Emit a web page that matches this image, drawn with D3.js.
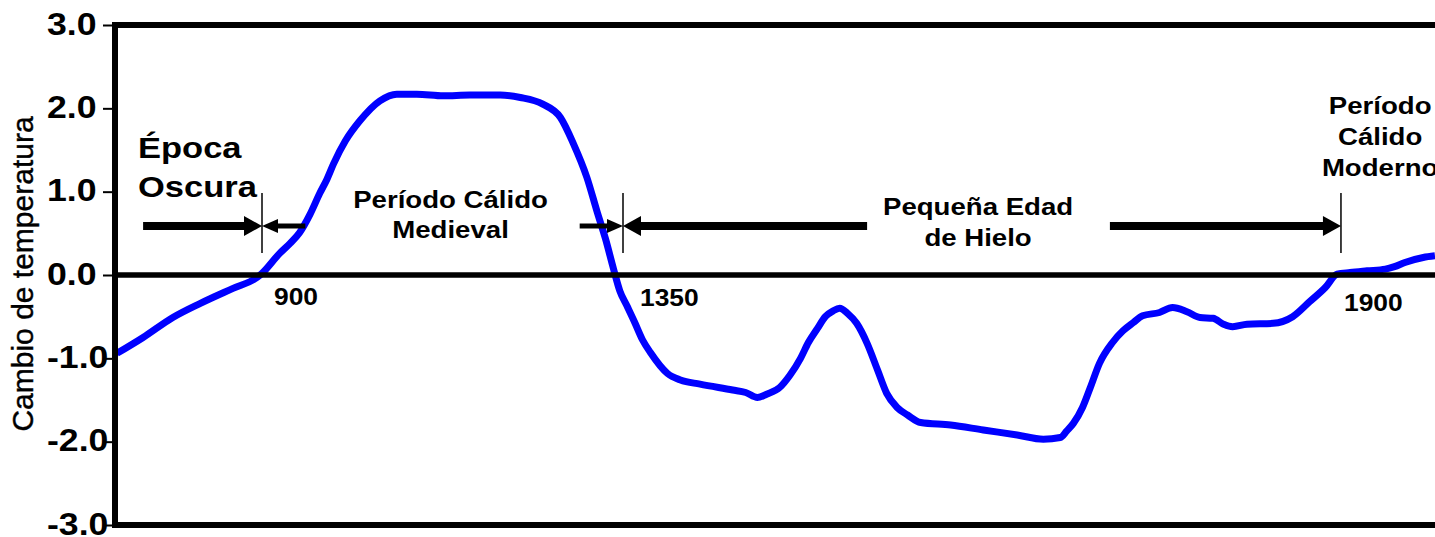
<!DOCTYPE html>
<html><head><meta charset="utf-8">
<script src="https://cdn.jsdelivr.net/npm/d3@7"></script>
<style>html,body{margin:0;padding:0;background:#fff;} svg{display:block;}</style>
</head><body>
<svg id="chart" width="1435" height="537"></svg>
<script>
// ---------- data ----------
const years = [700,736,777,815,860,893,900,922,935,947,960,972,981,989,1004,1022,1047,1068,1093,1126,1159,1197,1222,1250,1272,1288,1305,1318,1328,1338,1346,1353,1359,1365,1371,1384,1394,1409,1434,1444,1453,1460,1470,1478,1486,1492,1499,1505,1511,1516,1522,1529,1537,1545,1552,1560,1568,1578,1601,1626,1652,1672,1685,1690,1695,1702,1708,1715,1725,1733,1741,1748,1761,1771,1782,1792,1802,1810,1817,1828,1848,1863,1876,1888,1897,1907,1920,1934,1941,1949,1963,1972];
const tempChange = [-0.94,-0.75,-0.51,-0.34,-0.16,-0.03,0.02,0.26,0.38,0.51,0.73,0.98,1.15,1.33,1.61,1.85,2.09,2.17,2.17,2.15,2.16,2.16,2.13,2.05,1.89,1.58,1.17,0.75,0.44,0.08,-0.19,-0.37,-0.57,-0.78,-0.93,-1.18,-1.26,-1.31,-1.38,-1.41,-1.47,-1.43,-1.35,-1.20,-1.00,-0.81,-0.64,-0.50,-0.43,-0.40,-0.46,-0.58,-0.82,-1.14,-1.42,-1.59,-1.68,-1.77,-1.80,-1.86,-1.92,-1.97,-1.95,-1.87,-1.78,-1.59,-1.35,-1.06,-0.81,-0.67,-0.57,-0.49,-0.45,-0.39,-0.44,-0.51,-0.52,-0.59,-0.62,-0.59,-0.58,-0.50,-0.32,-0.15,0.01,0.03,0.05,0.07,0.10,0.15,0.21,0.23];
const yTicks = [-3,-2,-1,0,1,2,3];
const markerYears = [900,1350,1900];
const markerLabels = ["900","1350","1900"];
const yAxisTitle = "Cambio de temperatura";
const periodNames = [["Época","Oscura"],["Período Cálido","Medieval"],["Pequeña Edad","de Hielo"],["Período","Cálido","Moderno"]];
const periodLabelYears = [729,1135,1622,1930];
// arrow segments (years): from, to, which end has a head
const arrowFrom = [736,900,1296,1350,1723];
const arrowTo   = [900,954,1350,1537,1900];
const arrowHead = ["end","start","end","start","end"];

// ---------- layout ----------
const W = 1435, H = 537;
const FONT = "'Liberation Sans', Arial, Helvetica, sans-serif";
const SX = 1.15;
const svg = d3.select("#chart");
svg.append("rect").attr("width",W).attr("height",H).attr("fill","#fff");

const x = d3.scaleLinear().domain([700,900,1350,2000]).range([117,262,623,1471.5]);
const y = d3.scaleLinear().domain([-3,3]).range([525,25]);
const axisX = 115;

// curve
const line = d3.line().x((d,i)=>x(years[i])).y(d=>y(d)).curve(d3.curveMonotoneX);
svg.append("path").datum(tempChange).attr("d",line)
  .attr("fill","none").attr("stroke","#0000ff").attr("stroke-width",7).attr("stroke-linejoin","round");

// zero line
svg.append("line").attr("x1",axisX).attr("x2",W).attr("y1",y(0)).attr("y2",y(0))
  .attr("stroke","#000").attr("stroke-width",5.5);

// frame
const frame = svg.append("g").attr("stroke","#000").attr("stroke-width",6);
frame.append("line").attr("x1",axisX).attr("x2",axisX).attr("y1",y(3)-3).attr("y2",y(-3)+3);
frame.append("line").attr("x1",axisX-3).attr("x2",W).attr("y1",y(3)).attr("y2",y(3));
frame.append("line").attr("x1",axisX-3).attr("x2",W).attr("y1",y(-3)).attr("y2",y(-3));

// y axis
const fmt = d => (d<0?"-":"") + Math.abs(d).toFixed(1);
const yAxis = d3.axisLeft(y).tickValues(yTicks).tickSize(9).tickFormat(fmt);
const ga = svg.append("g").attr("transform",`translate(${axisX-3},0)`).call(yAxis);
ga.select(".domain").remove();
ga.selectAll(".tick line").attr("stroke","#000").attr("stroke-width",2);
ga.selectAll(".tick text").attr("x",null).attr("dy","0.3em")
  .attr("text-anchor","start")
  .attr("transform",`translate(-65,0) scale(${SX},1)`)
  .style("font-family",FONT).style("font-size","31px").style("font-weight","bold").attr("fill","#000");

svg.append("text").attr("transform",`translate(33,${(y(3)+y(-3))/2 - 1}) rotate(-90)`)
  .attr("text-anchor","middle").style("font-family",FONT).style("font-size","30px")
  .attr("fill","#000").attr("stroke","#000").attr("stroke-width",0.4).text(yAxisTitle);

function addText(str, tx, ty, size, anchor, sx){
  svg.append("text").attr("transform",`translate(${tx},${ty}) scale(${sx},1)`)
    .attr("text-anchor",anchor).style("font-family",FONT).style("font-size",size+"px")
    .style("font-weight","bold").attr("fill","#000").text(str);
}

// period labels
const labelBase = [[158,197],[208,238],[215,246],[114,145,176]];
const labelSize = [30,24,24,24];
periodNames.forEach((lines,i)=>{
  lines.forEach((s,j)=>addText(s, x(periodLabelYears[i]), labelBase[i][j], labelSize[i], i===0?"start":"middle", SX));
});

// marker lines & year labels
const labelOffsets = [[12,305],[17,306],[3,311]];
markerYears.forEach((yr,i)=>{
  svg.append("line").attr("x1",x(yr)).attr("x2",x(yr)).attr("y1",193).attr("y2",253)
    .attr("stroke","#000").attr("stroke-width",1.5);
  addText(markerLabels[i], x(yr)+labelOffsets[i][0], labelOffsets[i][1], 24, "start", 1.1);
});

// arrows
const arrowY = 226;
arrowFrom.forEach((f,i)=>{
  const thin = (i===1||i===2);
  const x1 = x(f), x2 = x(arrowTo[i]);
  const len = thin?16:18, hh = thin?7:10;
  const sw = thin?5:8;
  let a = x1, b = x2;
  if(arrowHead[i]==="end") b = x2-len+2; else a = x1+len-2;
  svg.append("line").attr("x1",a).attr("x2",b).attr("y1",arrowY).attr("y2",arrowY)
    .attr("stroke","#000").attr("stroke-width",sw);
  const tip = arrowHead[i]==="end"? x2 : x1;
  const dir = arrowHead[i]==="end"? -1 : 1;
  svg.append("path").attr("d",`M${tip},${arrowY} L${tip+dir*len},${arrowY-hh} L${tip+dir*len},${arrowY+hh} Z`)
    .attr("fill","#000");
});
</script>
</body></html>
